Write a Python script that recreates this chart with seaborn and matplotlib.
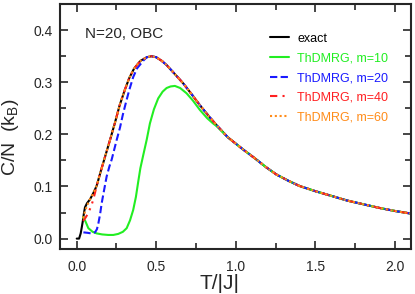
import numpy as np
import pandas as pd
import matplotlib
matplotlib.use("Agg")
import matplotlib.pyplot as plt
from matplotlib.ticker import MultipleLocator
import seaborn as sns

# exact curve
T_exact = [0.0, 0.015, 0.025, 0.032, 0.038, 0.045, 0.052, 0.065, 0.083, 0.104, 0.125,
           0.15, 0.178, 0.21, 0.24, 0.27, 0.303, 0.33, 0.36, 0.40, 0.44, 0.47, 0.50,
           0.535, 0.565, 0.61, 0.669, 0.72, 0.774, 0.83, 0.878, 0.951, 0.98, 1.05,
           1.12, 1.19, 1.255, 1.33, 1.4, 1.5, 1.6, 1.7, 1.8, 1.9, 2.0, 2.1]
C_exact = [0.0, 0.0, 0.010, 0.022, 0.033, 0.048, 0.060, 0.068, 0.075, 0.087, 0.101,
           0.128, 0.157, 0.190, 0.222, 0.256, 0.286, 0.308, 0.326, 0.341, 0.348, 0.350, 0.348,
           0.341, 0.333, 0.318, 0.298, 0.278, 0.256, 0.235, 0.218, 0.194, 0.187, 0.170,
           0.154, 0.137, 0.123, 0.111, 0.101, 0.091, 0.082, 0.073, 0.066, 0.059, 0.053, 0.048]

# ThDMRG curves, low-temperature parts (they join the exact curve afterwards)
T_m10 = [0.04, 0.055, 0.073, 0.10, 0.125, 0.16, 0.198, 0.23, 0.261, 0.29, 0.314, 0.335,
         0.355, 0.372, 0.387, 0.40, 0.418, 0.44, 0.46, 0.485, 0.512, 0.54, 0.565, 0.59,
         0.617, 0.65, 0.69, 0.73, 0.774, 0.82, 0.857, 0.878]
C_m10 = [0.041, 0.033, 0.020, 0.013, 0.010, 0.008, 0.007, 0.007, 0.009, 0.013, 0.020, 0.035,
         0.055, 0.080, 0.110, 0.135, 0.160, 0.190, 0.221, 0.248, 0.269, 0.282, 0.289, 0.292,
         0.293, 0.289, 0.279, 0.265, 0.247, 0.231, 0.221, 0.216]

T_m20 = [0.042, 0.07, 0.09, 0.115, 0.127, 0.136, 0.147, 0.157, 0.172, 0.188, 0.205, 0.22,
         0.235, 0.25, 0.272, 0.29, 0.31, 0.33, 0.355, 0.38, 0.42, 0.44]
C_m20 = [0.012, 0.011, 0.010, 0.012, 0.018, 0.029, 0.047, 0.068, 0.093, 0.119, 0.138, 0.152,
         0.170, 0.188, 0.213, 0.238, 0.262, 0.285, 0.310, 0.327, 0.342, 0.348]

T_m40 = [0.04, 0.055, 0.073, 0.094, 0.104, 0.115, 0.125]
C_m40 = [0.034, 0.040, 0.049, 0.065, 0.075, 0.088, 0.101]

T_m60 = [0.04, 0.052, 0.063, 0.083]
C_m60 = [0.039, 0.052, 0.062, 0.075]

labels = ["exact", "ThDMRG, m=10", "ThDMRG, m=20", "ThDMRG, m=40", "ThDMRG, m=60"]
colors = ["black", "#22ee22", "#1a1aff", "#ff2020", "#ff8c1a"]
dashes = ["", "", (3.5, 1.6), (3.5, 2.5, 1, 2.5, 1, 2.5), (1, 1.3)]


def join_exact(t_low, c_low):
    t_tail = [t for t in T_exact if t > t_low[-1]]
    c_tail = [c for t, c in zip(T_exact, C_exact) if t > t_low[-1]]
    return t_low + t_tail, c_low + c_tail


series = [(T_exact, C_exact), join_exact(T_m10, C_m10), join_exact(T_m20, C_m20),
          join_exact(T_m40, C_m40), join_exact(T_m60, C_m60)]

frames = []
for lab, (t, c) in zip(labels, series):
    frames.append(pd.DataFrame({"T": t, "C": c, "curve": lab}))
df = pd.concat(frames, ignore_index=True)

sns.set_style("ticks")
plt.rcParams['font.family'] = ['Liberation Sans', 'DejaVu Sans']

fig, ax = plt.subplots(figsize=(4.15, 2.94), dpi=100)
fig.subplots_adjust(left=0.1446, right=0.990, top=0.986, bottom=0.153)

for lab, col, d in zip(labels, colors, dashes):
    sub = df[df["curve"] == lab]
    sns.lineplot(data=sub, x="T", y="C", ax=ax, color=col, lw=1.5,
                 sort=False, estimator=None, label=lab)
    if d != "":
        ax.lines[-1].set_dashes(d)

ax.set_xlim(-0.105, 2.1)
ax.set_ylim(-0.02, 0.45)
ax.xaxis.set_major_locator(MultipleLocator(0.5))
ax.xaxis.set_minor_locator(MultipleLocator(0.25))
ax.yaxis.set_major_locator(MultipleLocator(0.1))
ax.yaxis.set_minor_locator(MultipleLocator(0.05))
ax.xaxis.set_major_formatter(plt.FormatStrFormatter('%.1f'))
ax.yaxis.set_major_formatter(plt.FormatStrFormatter('%.1f'))
ax.tick_params(which='both', direction='in', top=True, right=True, width=1.2, labelsize=10)
ax.tick_params(which='major', length=6, pad=5)
ax.tick_params(axis='x', which='major', pad=8)
ax.tick_params(which='minor', length=4)
for s in ax.spines.values():
    s.set_linewidth(1.5)

ax.set_xlabel("T/|J|", fontsize=15)
ax.set_ylabel("C/N  (k$_\\mathregular{B}$)", fontsize=14)
ax.xaxis.set_label_coords(0.454, -0.1)
ax.yaxis.set_label_coords(-0.11, 0.455)

ax.text(0.071, 0.88, "N=20, OBC", transform=ax.transAxes, fontsize=11, va='center', ha='left')

leg = ax.legend(loc='upper left', bbox_to_anchor=(0.598, 0.884), frameon=False,
                fontsize=9, handlelength=1.5, handletextpad=0.7, labelspacing=0.62,
                borderaxespad=0, borderpad=0, labelcolor='linecolor')

fig.savefig("out.png", dpi=100)
